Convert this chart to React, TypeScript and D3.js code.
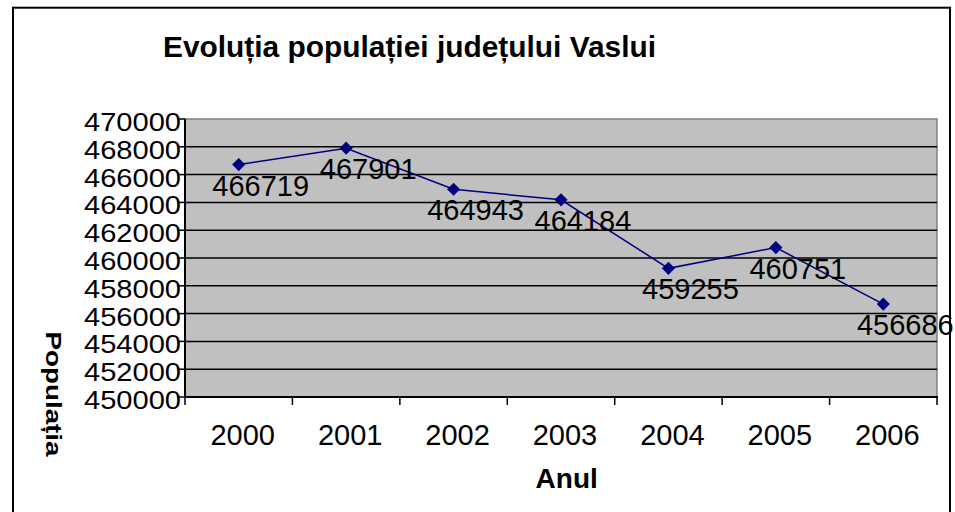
import React from "react";
import * as d3 from "d3";

const years = ["2000", "2001", "2002", "2003", "2004", "2005", "2006"];
const population = [466719, 467901, 464943, 464184, 459255, 460751, 456686];
const yTicks = [450000, 452000, 454000, 456000, 458000, 460000, 462000, 464000, 466000, 468000, 470000];
const title = "Evoluția populației județului Vaslui";
const xTitle = "Anul";
const yTitle = "Populația";

const W = 955;
const H = 512;
const plot = { left: 185, right: 937, top: 119, bottom: 397 };

export default function App() {
  const x = d3.scaleBand<string>().domain(years).range([plot.left, plot.right]).padding(0);
  const y = d3.scaleLinear().domain([450000, 470000]).range([plot.bottom, plot.top]);
  const cx = (yr: string) => (x(yr) as number) + x.bandwidth() / 2;
  const line = d3
    .line<number>()
    .x((_, i) => cx(years[i]))
    .y((d) => y(d));
  const diamond = d3.symbol().type(d3.symbolDiamond2).size(110);
  const font = "'Liberation Sans', Arial, sans-serif";
  const boundaries = d3.range(years.length + 1).map((i) => plot.left + i * x.step());

  return (
    <svg
      width={W}
      height={H}
      style={{ position: "absolute", left: 0, top: 0, background: "#fff" }}
      fontFamily={font}
    >
      <rect x={0} y={0} width={W} height={H} fill="#fff" />
      <rect x={13} y={7.7} width={937} height={520} fill="none" stroke="#000" strokeWidth={2} />
      <text
        x={163}
        y={57}
        fontSize={29}
        fontWeight="bold"
        textLength={493}
        lengthAdjust="spacingAndGlyphs"
      >
        {title}
      </text>
      {/* plot area */}
      <rect
        x={plot.left}
        y={plot.top}
        width={plot.right - plot.left}
        height={plot.bottom - plot.top}
        fill="#C0C0C0"
        stroke="#808080"
        strokeWidth={1.5}
      />
      {yTicks.slice(1, -1).map((t) => (
        <line key={"g" + t} x1={plot.left} x2={plot.right} y1={y(t)} y2={y(t)} stroke="#000" strokeWidth={1.5} />
      ))}
      {/* axes */}
      <line x1={plot.left} x2={plot.left} y1={plot.top} y2={plot.bottom + 1} stroke="#000" strokeWidth={2} />
      <line x1={plot.left} x2={plot.right + 1} y1={plot.bottom} y2={plot.bottom} stroke="#000" strokeWidth={2} />
      {yTicks.map((t) => (
        <g key={"yt" + t}>
          <line x1={plot.left - 8} x2={plot.left} y1={y(t)} y2={y(t)} stroke="#000" strokeWidth={1.5} />
          <text
            x={181}
            y={y(t) + 12}
            fontSize={26}
            textAnchor="end"
            textLength={97}
            lengthAdjust="spacingAndGlyphs"
          >
            {t}
          </text>
        </g>
      ))}
      {boundaries.map((b, i) => (
        <line key={"xt" + i} x1={b} x2={b} y1={plot.bottom} y2={plot.bottom + 8} stroke="#000" strokeWidth={1.5} />
      ))}
      {years.map((yr) => (
        <text key={"xl" + yr} x={cx(yr) + 4} y={445} fontSize={29} textAnchor="middle">
          {yr}
        </text>
      ))}
      {/* series */}
      <path d={line(population) || ""} fill="none" stroke="#000080" strokeWidth={1.5} />
      {population.map((v, i) => (
        <path
          key={"m" + i}
          d={diamond() || ""}
          transform={`translate(${cx(years[i])},${y(v)})`}
          fill="#000080"
        />
      ))}
      {population.map((v, i) => (
        <text key={"dl" + i} x={cx(years[i]) + 22} y={y(v) + 31} fontSize={29} textAnchor="middle">
          {v}
        </text>
      ))}
      <text x={566.7} y={488} fontSize={28} fontWeight="bold" textAnchor="middle">
        {xTitle}
      </text>
      <text
        transform={`translate(46,394) rotate(90)`}
        fontSize={22}
        fontWeight="bold"
        textAnchor="middle"
        textLength={125}
        lengthAdjust="spacingAndGlyphs"
      >
        {yTitle}
      </text>
    </svg>
  );
}
